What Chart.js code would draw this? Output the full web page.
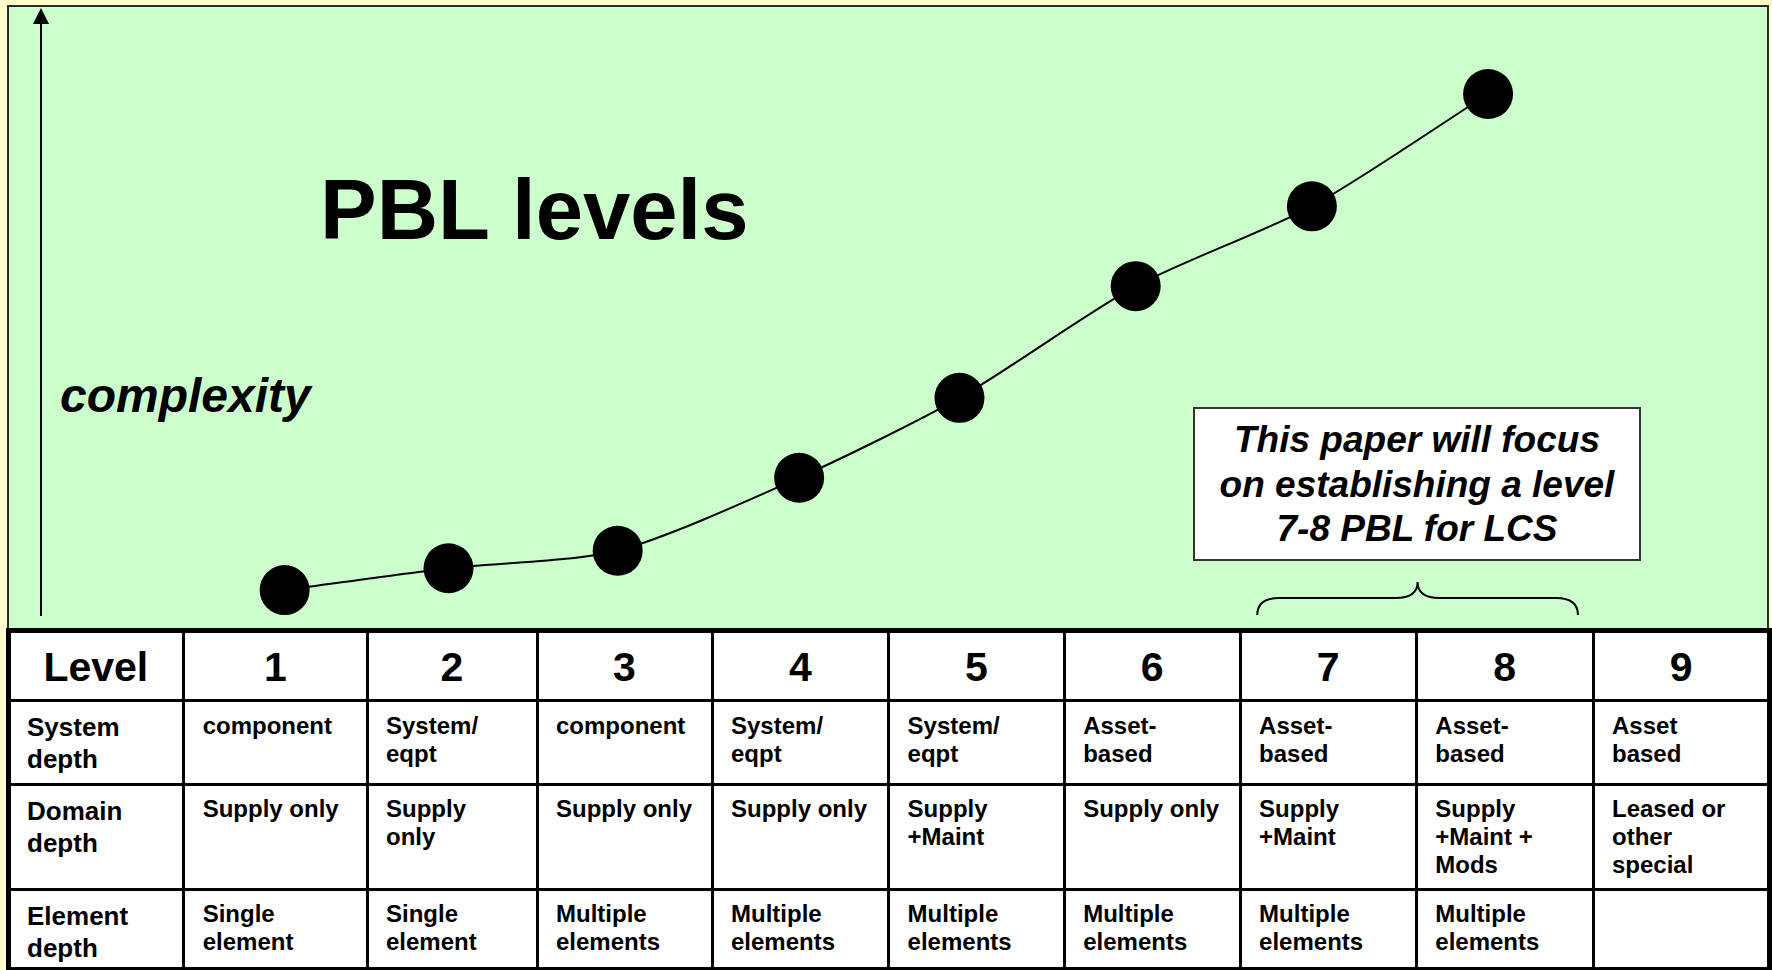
<!DOCTYPE html>
<html>
<head>
<meta charset="utf-8">
<title>PBL levels</title>
<script src="https://cdn.jsdelivr.net/npm/chart.js"></script>
<style>
  html, body { margin: 0; padding: 0; }
  body {
    width: 1772px; height: 970px; overflow: hidden; position: relative;
    background: #FFFFCC;
    font-family: 'Liberation Sans', Arial, Helvetica, sans-serif;
    color: #000;
  }
  #panel {
    position: absolute; left: 7px; top: 5px; width: 1762px; height: 640px;
    box-sizing: border-box; border: 2px solid #2a2a2a; background: #CCFFCC;
  }
  #chartWrap { position: absolute; left: 8px; top: 6px; width: 1762px; height: 624px; }
  .title {
    position: absolute; left: 320px; top: 167px; font-size: 85px; line-height: 85px;
    font-weight: bold; white-space: nowrap;
  }
  .ylabel {
    position: absolute; left: 60px; top: 372px; font-size: 48px; line-height: 48px;
    font-weight: bold; font-style: italic; white-space: nowrap;
  }
  #note {
    position: absolute; left: 1193px; top: 407px; width: 448px; height: 154px;
    box-sizing: border-box; border: 2px solid #333; background: #fff;
    display: flex; align-items: center; justify-content: center; text-align: center;
    font-size: 37px; line-height: 44.5px; font-weight: bold; font-style: italic;
    white-space: pre; padding-top: 2px;
  }
  #table { position: absolute; left: 0; top: 0; width: 1772px; height: 970px; pointer-events: none; }
  .tbg { position: absolute; left: 6px; top: 628px; width: 1766px; height: 344px; background: #fff; }
  .rule { position: absolute; background: #000; }
  .cell { position: absolute; font-weight: bold; white-space: pre; }
  .head { font-size: 41px; line-height: 41px; text-align: center; }
  .lab { font-size: 26px; line-height: 32px; }
  .body { font-size: 24px; line-height: 28px; }
</style>
</head>
<body>
<div id="panel"></div>
<div class="title">PBL levels</div>
<div class="ylabel">complexity</div>
<div id="chartWrap"><canvas id="chart" width="1762" height="624"></canvas></div>
<div id="note">This paper will focus
on establishing a level
7-8 PBL for LCS</div>
<div id="table"></div>

<script>
// PBL level positions (in level units) and relative complexity of each level
const pointLevel = [1.07, 2.00, 2.96, 3.99, 4.90, 5.90, 6.90, 7.90];
const complexity = [0.64, 0.99, 1.27, 2.44, 3.72, 5.51, 6.79, 8.59];

// Table contents
const headerLabel = 'Level';
const levels = ['1', '2', '3', '4', '5', '6', '7', '8', '9'];
const rowLabels = ['System\ndepth', 'Domain\ndepth', 'Element\ndepth'];
const systemDepth = ['component', 'System/\neqpt', 'component', 'System/\neqpt', 'System/\neqpt',
  'Asset-\nbased', 'Asset-\nbased', 'Asset-\nbased', 'Asset\nbased'];
const domainDepth = ['Supply only', 'Supply\nonly', 'Supply only', 'Supply only', 'Supply\n+Maint',
  'Supply only', 'Supply\n+Maint', 'Supply\n+Maint +\nMods', 'Leased or\nother\nspecial'];
const elementDepth = ['Single\nelement', 'Single\nelement', 'Multiple\nelements', 'Multiple\nelements',
  'Multiple\nelements', 'Multiple\nelements', 'Multiple\nelements', 'Multiple\nelements', ''];

// Focus range bracketed above the table (levels 7-8)
const focusRange = [6.59, 8.41];
const axisArrowAt = -0.31;

// Table grid lines (page pixels)
const colEdges = [8, 183.7, 367, 537, 712, 888.6, 1064.2, 1240.1, 1416.3, 1593, 1769.5];
const rowEdges = [630.5, 700.5, 784, 889, 968.5];

// ---- table ----
const table = document.getElementById('table');
function add(cls, style, text) {
  const d = document.createElement('div');
  d.className = cls;
  Object.assign(d.style, style);
  if (text !== undefined) d.textContent = text;
  table.appendChild(d);
  return d;
}
add('tbg', {});
// header row
const headers = [headerLabel].concat(levels);
headers.forEach((t, i) => {
  add('cell head', {
    left: colEdges[i] + 'px', width: (colEdges[i + 1] - colEdges[i]) + 'px', top: '647px'
  }, t);
});
// body rows
const bodyRows = [systemDepth, domainDepth, elementDepth];
bodyRows.forEach((row, r) => {
  const top = rowEdges[r + 1];
  add('cell lab', { left: (colEdges[0] + 19) + 'px', top: (top + 10.5) + 'px' }, rowLabels[r]);
  row.forEach((t, c) => {
    add('cell body', { left: (colEdges[c + 1] + 19) + 'px', top: (top + 11) + 'px' }, t);
  });
});
// grid rules
colEdges.forEach((x, i) => {
  const outer = i === 0 || i === colEdges.length - 1;
  const w = outer ? 5 : 3;
  add('rule', { left: (x - w / 2) + 'px', top: '628px', width: w + 'px', height: '344px' });
});
rowEdges.forEach((y, i) => {
  const h = i === 0 ? 5 : 3;
  add('rule', { left: '6px', top: (y - h / 2) + 'px', width: '1766px', height: h + 'px' });
});

// ---- chart ----
const decorations = {
  id: 'decorations',
  beforeDatasetsDraw(chart) {
    const { ctx } = chart;
    const xs = chart.scales.x, ys = chart.scales.y;
    ctx.save();
    ctx.strokeStyle = '#000';
    ctx.fillStyle = '#000';

    // vertical complexity arrow
    const ax = Math.round(xs.getPixelForValue(axisArrowAt));
    const tip = ys.top + 2;
    ctx.lineWidth = 2;
    ctx.beginPath();
    ctx.moveTo(ax, ys.bottom - 14);
    ctx.lineTo(ax, tip + 12);
    ctx.stroke();
    ctx.beginPath();
    ctx.moveTo(ax, tip);
    ctx.lineTo(ax - 8, tip + 16);
    ctx.lineTo(ax + 8, tip + 16);
    ctx.closePath();
    ctx.fill();

    // curly brace over the focus levels
    const xl = xs.getPixelForValue(focusRange[0]);
    const xr = xs.getPixelForValue(focusRange[1]);
    const xc = (xl + xr) / 2;
    const yEnd = ys.bottom - 15, yMid = ys.bottom - 32, yTip = ys.bottom - 48;
    const r = 22;
    ctx.lineWidth = 2;
    ctx.beginPath();
    ctx.moveTo(xl, yEnd);
    ctx.quadraticCurveTo(xl, yMid, xl + r, yMid);
    ctx.lineTo(xc - r, yMid);
    ctx.quadraticCurveTo(xc, yMid, xc, yTip);
    ctx.quadraticCurveTo(xc, yMid, xc + r, yMid);
    ctx.lineTo(xr - r, yMid);
    ctx.quadraticCurveTo(xr, yMid, xr, yEnd);
    ctx.stroke();
    ctx.restore();
  }
};

new Chart(document.getElementById('chart'), {
  type: 'line',
  data: {
    datasets: [{
      data: pointLevel.map((x, i) => ({ x, y: complexity[i] })),
      borderColor: '#000',
      borderWidth: 2,
      backgroundColor: '#000',
      pointBackgroundColor: '#000',
      pointBorderColor: '#000',
      pointBorderWidth: 0,
      pointRadius: 25,
      pointHoverRadius: 25,
      tension: 0.25,
      fill: false,
      clip: false
    }]
  },
  options: {
    responsive: false,
    animation: false,
    devicePixelRatio: 1,
    events: [],
    layout: { padding: 0, autoPadding: false },
    plugins: { legend: { display: false }, tooltip: { enabled: false }, title: { display: false } },
    scales: {
      x: { type: 'linear', min: -0.5, max: 9.5, display: false },
      y: { type: 'linear', min: 0, max: 10, display: false }
    }
  },
  plugins: [decorations]
});
</script>
</body>
</html>
